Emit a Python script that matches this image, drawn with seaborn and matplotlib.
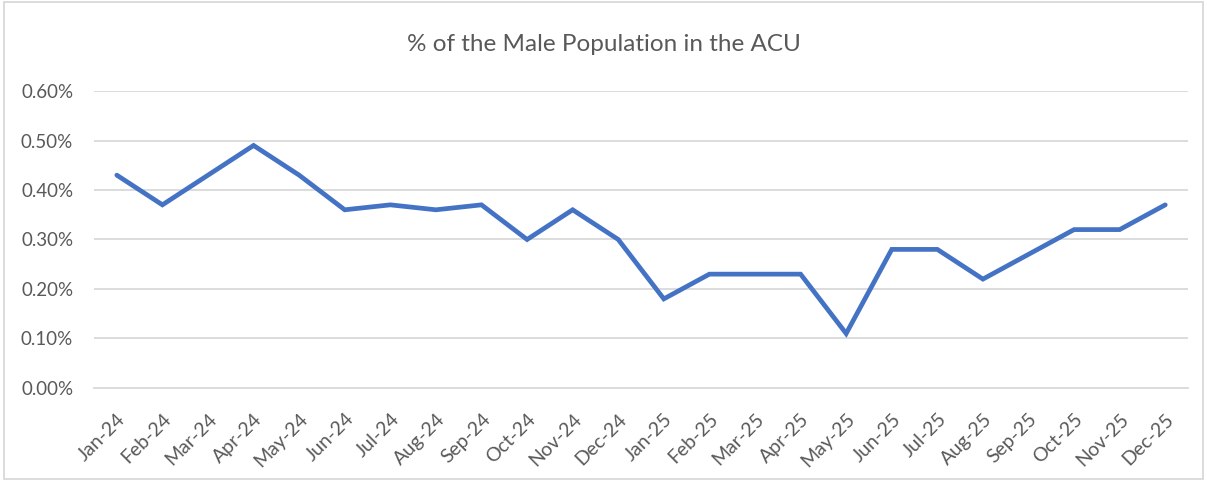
import matplotlib
matplotlib.use('Agg')
import matplotlib.pyplot as plt
import matplotlib.ticker as mtick
import pandas as pd
import seaborn as sns

# Monthly share of the male population in the ACU (percent)
months = ['Jan-24', 'Feb-24', 'Mar-24', 'Apr-24', 'May-24', 'Jun-24',
          'Jul-24', 'Aug-24', 'Sep-24', 'Oct-24', 'Nov-24', 'Dec-24',
          'Jan-25', 'Feb-25', 'Mar-25', 'Apr-25', 'May-25', 'Jun-25',
          'Jul-25', 'Aug-25', 'Sep-25', 'Oct-25', 'Nov-25', 'Dec-25']
pct_male = [0.43, 0.37, 0.43, 0.49, 0.43, 0.36,
            0.37, 0.36, 0.37, 0.30, 0.36, 0.30,
            0.18, 0.23, 0.23, 0.23, 0.11, 0.28,
            0.28, 0.22, 0.27, 0.32, 0.32, 0.37]
y_ticks = [0.0, 0.1, 0.2, 0.3, 0.4, 0.5, 0.6]

df = pd.DataFrame({'Month': months, 'Pct': pct_male})
df['Pos'] = range(len(df))

sns.set_style('white')
plt.rcParams['font.family'] = ['Lato', 'DejaVu Sans']

text_col = '#595959'
grid_col = '#D9D9D9'

fig = plt.figure(figsize=(12.07, 4.8), dpi=100)
ax = fig.add_axes([0.0779, 0.1917, 0.9064, 0.6187])

# gridlines first so the line sits on top
for y in y_ticks[1:]:
    ax.axhline(y, color=grid_col, lw=1.3, zorder=0)

sns.lineplot(data=df, x='Pos', y='Pct', color='#4472C4', linewidth=3.4,
             solid_capstyle='round', solid_joinstyle='miter', ax=ax, zorder=3)

ax.set_xlim(-0.5, len(months) - 0.5)
ax.set_ylim(0, 0.6)
ax.set_yticks(y_ticks)
ax.yaxis.set_major_formatter(mtick.FuncFormatter(lambda v, p: f'{v:.2f}%'))

ax.set_xticks(df['Pos'])
ax.set_xticklabels(months, rotation=45, ha='right', rotation_mode='anchor')
ax.set_xticks([i - 0.5 for i in range(len(months) + 1)], minor=True)
ax.tick_params(axis='x', which='major', length=0, pad=16, labelsize=14,
               labelcolor=text_col)
ax.tick_params(axis='x', which='minor', length=5, width=1.3, color=grid_col,
               direction='out')
ax.tick_params(axis='y', length=0, pad=15, labelsize=13.5, labelcolor=text_col)

for s in ['top', 'right', 'left']:
    ax.spines[s].set_visible(False)
ax.spines['bottom'].set_color(grid_col)
ax.spines['bottom'].set_linewidth(1.3)

ax.set_xlabel('')
ax.set_ylabel('')

fig.text(0.5, 0.908, '% of the Male Population in the ACU', ha='center',
         va='center', fontsize=17.5, color=text_col)

# light chart-area border
fig.patches.append(plt.Rectangle((0.003, 0.002), 0.994, 0.994,
                                 transform=fig.transFigure, fill=False,
                                 edgecolor=grid_col, lw=1.3))

fig.savefig('out.png', dpi=100)
